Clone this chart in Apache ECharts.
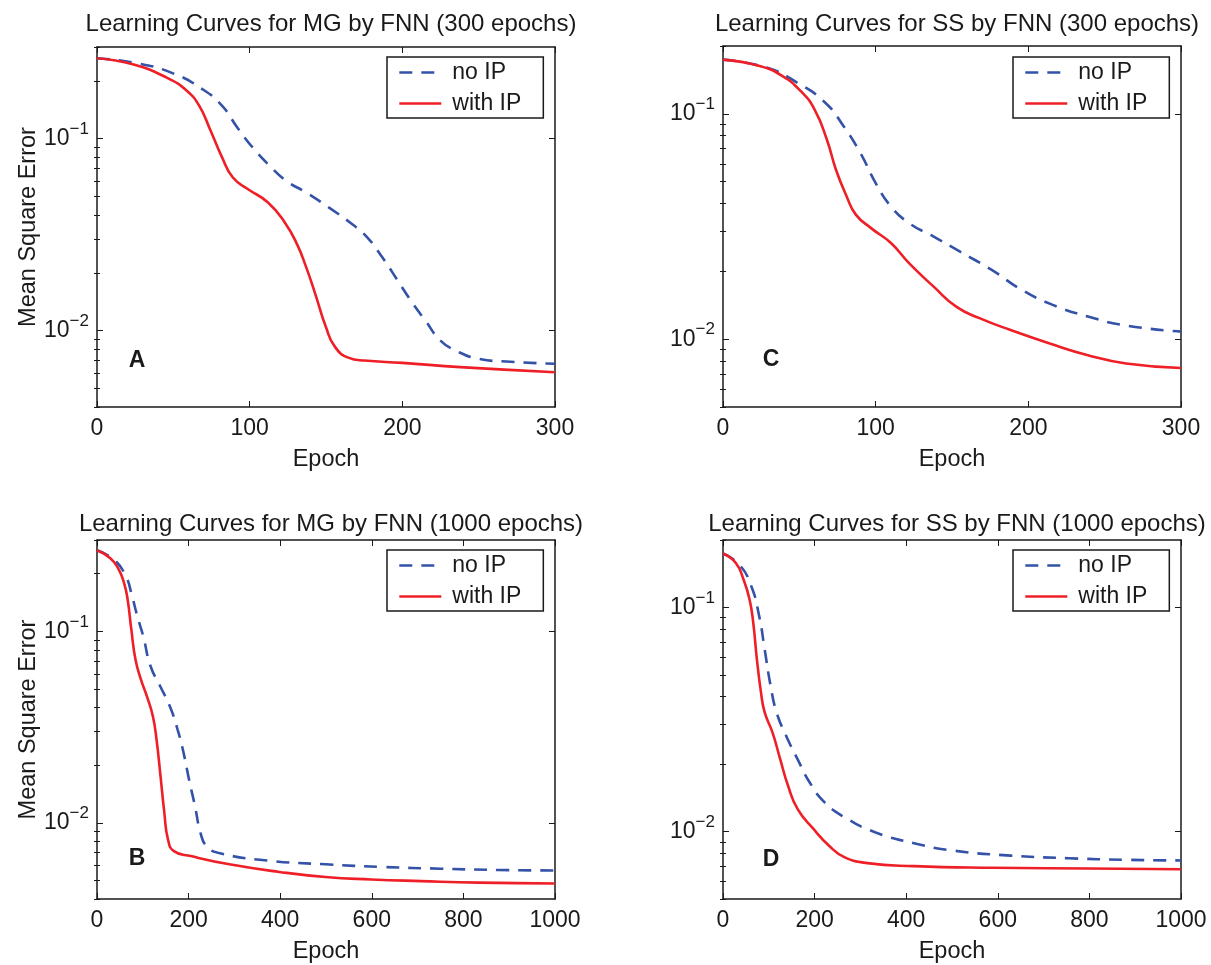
<!DOCTYPE html>
<html>
<head>
<meta charset="utf-8">
<script src="https://cdn.jsdelivr.net/npm/echarts@6/dist/echarts.min.js"></script>
<style>
  html, body { margin: 0; padding: 0; background: #fff; }
  #chart { width: 1211px; height: 965px; }
</style>
</head>
<body>
<div id="chart"></div>
<script>
// ---------------- data (epoch, mean square error) ----------------
const mgNoIP300 = [[0,0.262],[26,0.247],[49,0.22],[69,0.181],[82,0.148],[92,0.114],[102,0.0898],[112,0.0736],[124,0.0602],[137,0.0524],[152,0.0437],[167,0.0359],[177,0.0306],[187,0.024],[197,0.0182],[207,0.0138],[215,0.0113],[225,0.00887],[235,0.00787],[250,0.00713],[268,0.0069],[300,0.00672]];
const mgWithIP300 = [[0,0.262],[24,0.243],[46,0.207],[59,0.177],[67,0.148],[74,0.112],[82,0.0796],[89,0.0627],[99,0.0545],[112,0.0465],[123,0.0366],[131,0.0282],[137,0.0214],[143,0.0155],[150,0.0104],[156,0.0082],[165,0.00721],[175,0.00698],[200,0.00679],[238,0.00645],[300,0.00607]];
const ssNoIP300 = [[0,0.174],[29,0.16],[49,0.137],[67,0.112],[79,0.0881],[90,0.067],[100,0.0493],[110,0.0388],[122,0.0327],[138,0.0285],[155,0.0245],[176,0.0203],[196,0.0165],[216,0.0142],[239,0.0126],[264,0.0115],[300,0.0108]];
const ssWithIP300 = [[0,0.174],[24,0.163],[39,0.147],[51,0.126],[60,0.1045],[68,0.0769],[74,0.0565],[81,0.043],[87,0.0357],[97,0.0311],[110,0.0267],[122,0.0217],[138,0.0171],[153,0.0139],[168,0.0124],[188,0.011],[214,0.00957],[239,0.00849],[264,0.0078],[300,0.00745]];
const mgNoIP1000 = [[0,0.265],[38,0.236],[63,0.194],[75,0.158],[88,0.12],[101,0.0942],[117,0.0657],[138,0.0517],[159,0.0406],[176,0.0307],[189,0.0232],[201,0.0168],[214,0.0122],[226,0.00887],[239,0.00755],[264,0.00697],[373,0.00635],[499,0.00607],[624,0.00588],[750,0.00576],[876,0.00567],[1000,0.00564]];
const mgWithIP1000 = [[0,0.265],[29,0.241],[46,0.214],[59,0.179],[67,0.146],[75,0.102],[84,0.0712],[96,0.056],[109,0.0458],[122,0.036],[130,0.0272],[138,0.0182],[147,0.0113],[155,0.00818],[168,0.00711],[205,0.0067],[289,0.00607],[398,0.00554],[499,0.00521],[599,0.00506],[708,0.00496],[834,0.00487],[1000,0.00482]];
const ssNoIP1000 = [[0,0.174],[36,0.155],[62,0.124],[79,0.0915],[91,0.065],[104,0.0446],[117,0.034],[138,0.0267],[163,0.021],[189,0.0166],[222,0.0135],[265,0.0116],[332,0.00993],[417,0.00887],[501,0.00823],[628,0.00781],[755,0.0076],[882,0.00748],[1000,0.00743]];
const ssWithIP1000 = [[0,0.174],[28,0.158],[45,0.133],[58,0.1086],[66,0.0855],[74,0.0587],[83,0.0417],[91,0.034],[108,0.0277],[125,0.021],[142,0.016],[163,0.0126],[197,0.0103],[231,0.00867],[265,0.00769],[315,0.00723],[417,0.00701],[586,0.00689],[797,0.00684],[1000,0.00679]];

const seriesNames = ['no IP', 'with IP'];
const titles = [
  'Learning Curves for MG by FNN (300 epochs)',
  'Learning Curves for SS by FNN (300 epochs)',
  'Learning Curves for MG by FNN (1000 epochs)',
  'Learning Curves for SS by FNN (1000 epochs)'
];
const panelLetters = ['A', 'C', 'B', 'D'];
const yMajorTicks = [0.01, 0.1];
const yMinorTicks = [0.002,0.003,0.004,0.005,0.006,0.007,0.008,0.009,0.02,0.03,0.04,0.05,0.06,0.07,0.08,0.09,0.2,0.3];
const xAxisName = 'Epoch';
const yAxisName = 'Mean Square Error';

// ---------------- layout ----------------
const FONT = '"Liberation Sans", Arial, Helvetica, sans-serif';
const INK = '#1a1a1a';
const BLUE = '#3352a8';
const RED = '#ee1f26';

const panels = [
  { grid: {left: 97, top: 47, width: 458, height: 360}, xMax: 300, xStep: 100, yMin: 0.004, yMax: 0.3,
    data: [mgNoIP300, mgWithIP300], yName: true, titleTop: 7, legend: {left: 387, top: 57}, letter: [137, 361] },
  { grid: {left: 723, top: 46, width: 458, height: 361}, xMax: 300, xStep: 100, yMin: 0.005, yMax: 0.2,
    data: [ssNoIP300, ssWithIP300], yName: false, titleTop: 7, legend: {left: 1013, top: 57}, letter: [771, 360] },
  { grid: {left: 97, top: 540, width: 458, height: 360}, xMax: 1000, xStep: 200, yMin: 0.004, yMax: 0.3,
    data: [mgNoIP1000, mgWithIP1000], yName: true, titleTop: 507, legend: {left: 387, top: 550}, letter: [137, 859] },
  { grid: {left: 723, top: 540, width: 458, height: 359}, xMax: 1000, xStep: 200, yMin: 0.005, yMax: 0.2,
    data: [ssNoIP1000, ssWithIP1000], yName: false, titleTop: 507, legend: {left: 1013, top: 550}, letter: [771, 860] }
];

function expLabel(v) {
  const e = Math.round(Math.log10(v));
  return '{b|10}{s|' + (e < 0 ? '\u2212' : '') + Math.abs(e) + '}';
}

const option = {
  animation: false,
  backgroundColor: '#fff',
  textStyle: { fontFamily: FONT, color: INK },
  title: [], grid: [], xAxis: [], yAxis: [], series: [], legend: [], graphic: []
};

const axisLine = { show: true, onZero: false, lineStyle: { color: INK, width: 1.5 } };

panels.forEach((p, i) => {
  option.grid.push(Object.assign({ containLabel: false }, p.grid));
  option.title.push({
    text: titles[i],
    left: p.grid.left + p.grid.width / 2, top: p.titleTop, textAlign: 'center',
    textStyle: { fontFamily: FONT, fontSize: 24, fontWeight: 'normal', color: INK }
  });
  // x axes: bottom (labelled) and top (mirror)
  const xBase = { gridIndex: i, type: 'value', min: 0, max: p.xMax, interval: p.xStep,
    splitLine: { show: false }, axisLine: axisLine };
  option.xAxis.push(Object.assign({}, xBase, {
    position: 'bottom',
    axisTick: { show: true, inside: true, length: 6, lineStyle: { color: INK, width: 1 } },
    axisLabel: { show: true, fontSize: 23, color: INK, margin: 10, fontFamily: FONT, formatter: v => String(v) },
    name: xAxisName, nameLocation: 'middle', nameGap: 41,
    nameTextStyle: { fontSize: 23.5, color: INK, fontFamily: FONT }
  }));
  option.xAxis.push(Object.assign({}, xBase, {
    position: 'top',
    axisTick: { show: true, inside: true, length: 6, lineStyle: { color: INK, width: 1 } },
    axisLabel: { show: false }
  }));
  const xi = option.xAxis.length - 2;
  // y axes: left major (labelled), left minor, right major, right minor
  const yBase = { gridIndex: i, type: 'log', logBase: 10, min: p.yMin, max: p.yMax,
    splitLine: { show: false }, minorTick: { show: false }, minorSplitLine: { show: false } };
  const yi = option.yAxis.length;
  option.yAxis.push(Object.assign({}, yBase, {
    position: 'left', axisLine: axisLine,
    axisTick: { show: true, inside: true, length: 6, customValues: yMajorTicks, lineStyle: { color: INK, width: 1 } },
    axisLabel: { show: true, customValues: yMajorTicks, margin: 8, formatter: expLabel,
      rich: { b: { fontSize: 23, color: INK, fontFamily: FONT },
              s: { fontSize: 17, color: INK, fontFamily: FONT, padding: [0, 0, 19, 0] } } },
    name: p.yName ? yAxisName : '', nameLocation: 'middle', nameGap: 53,
    nameTextStyle: { fontSize: 23.5, color: INK, fontFamily: FONT }
  }));
  option.yAxis.push(Object.assign({}, yBase, {
    position: 'left', axisLine: { show: false },
    axisTick: { show: true, inside: true, length: 3, customValues: yMinorTicks, lineStyle: { color: INK, width: 1 } },
    axisLabel: { show: false }
  }));
  option.yAxis.push(Object.assign({}, yBase, {
    position: 'right', axisLine: axisLine,
    axisTick: { show: true, inside: true, length: 6, customValues: yMajorTicks, lineStyle: { color: INK, width: 1 } },
    axisLabel: { show: false }
  }));
  option.yAxis.push(Object.assign({}, yBase, {
    position: 'right', axisLine: { show: false },
    axisTick: { show: true, inside: true, length: 3, customValues: yMinorTicks, lineStyle: { color: INK, width: 1 } },
    axisLabel: { show: false }
  }));
  // series
  option.series.push({
    name: seriesNames[0], type: 'line', xAxisIndex: xi, yAxisIndex: yi,
    data: p.data[0], showSymbol: false, symbol: 'none', smooth: 0.5,
    lineStyle: { color: BLUE, width: 2.6, type: [13, 9] }, itemStyle: { color: BLUE }, z: 2
  });
  option.series.push({
    name: seriesNames[1], type: 'line', xAxisIndex: xi, yAxisIndex: yi,
    data: p.data[1], showSymbol: false, symbol: 'none', smooth: 0.5,
    lineStyle: { color: RED, width: 2.6, type: 'solid' }, itemStyle: { color: RED }, z: 3
  });
  // legend
  option.legend.push({
    data: seriesNames, orient: 'vertical', left: p.legend.left, top: p.legend.top,
    backgroundColor: '#fff', borderColor: INK, borderWidth: 1.5, borderRadius: 0,
    padding: [3, 22, 2, 11], itemGap: 6, itemWidth: 42, itemHeight: 14,
    selectedMode: false,
    itemStyle: { opacity: 0, color: 'rgba(0,0,0,0)', borderWidth: 0 },
    lineStyle: { width: 2.6 },
    textStyle: { fontSize: 23, color: INK, fontFamily: FONT, padding: [0, 0, 0, 6], lineHeight: 25 }
  });
  // panel letter
  option.graphic.push({
    type: 'text', x: p.letter[0], y: p.letter[1], z: 10,
    style: { text: panelLetters[i], font: 'bold 23px ' + FONT, fill: INK, textAlign: 'center', textVerticalAlign: 'middle' }
  });
});

const chart = echarts.init(document.getElementById('chart'), null, { renderer: 'canvas' });
chart.setOption(option);
</script>
</body>
</html>
